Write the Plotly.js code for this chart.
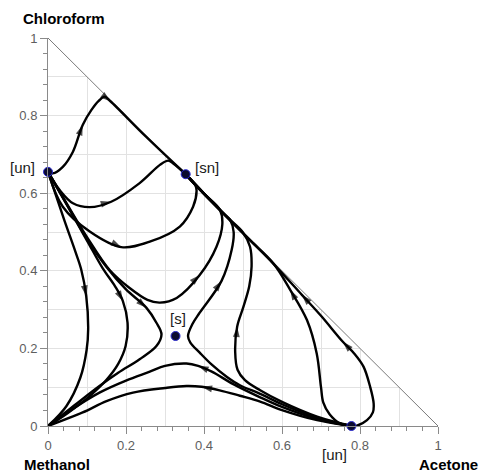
<!DOCTYPE html>
<html>
<head>
<meta charset="utf-8">
<script src="https://cdn.plot.ly/plotly-3.0.1.min.js"></script>
<style>html,body{margin:0;padding:0;background:#fff;}#chart{width:480px;height:472px;}</style>
</head>
<body>
<div id="chart"></div>
<script>
// ---- residue curves (x = Acetone, y = Chloroform), ordered along the flow ----
const a1X = [0, 0.012, 0.038, 0.064, 0.089, 0.111, 0.130, 0.145, 0.160, 0.250, 0.353];
const a1Y = [0.655, 0.651, 0.668, 0.707, 0.776, 0.814, 0.838, 0.849, 0.837, 0.747, 0.649];
const a1Arrows = [4, 8];

const a2X = [0, 0.030, 0.064, 0.107, 0.162, 0.235, 0.287, 0.308, 0.322, 0.353];
const a2Y = [0.655, 0.608, 0.574, 0.564, 0.578, 0.626, 0.673, 0.684, 0.676, 0.649];
const a2Arrows = [4];

const a3X = [0, 0.038, 0.107, 0.188, 0.261, 0.338, 0.372, 0.381, 0.378, 0.353];
const a3Y = [0.655, 0.565, 0.501, 0.461, 0.475, 0.514, 0.565, 0.606, 0.620, 0.649];
const a3Arrows = [3];

const b2X = [0, 0.050, 0.100, 0.158, 0.210, 0.255, 0.287, 0.330, 0.389, 0.432, 0.447, 0.441, 0.400, 0.353];
const b2Y = [0.655, 0.570, 0.487, 0.402, 0.355, 0.325, 0.318, 0.330, 0.389, 0.462, 0.520, 0.557, 0.599, 0.649];
const b2Arrows = [8];

const c1X = [0, 0.042, 0.070, 0.085, 0.098, 0.103, 0.099, 0.083, 0.047, 0];
const c1Y = [0.655, 0.530, 0.450, 0.404, 0.335, 0.250, 0.196, 0.125, 0.051, 0];
const c1Arrows = [4];

const c2X = [0, 0.050, 0.100, 0.140, 0.172, 0.192, 0.204, 0.199, 0.180, 0.150, 0.107, 0.050, 0];
const c2Y = [0.655, 0.567, 0.478, 0.407, 0.360, 0.322, 0.266, 0.206, 0.160, 0.119, 0.077, 0.033, 0];
const c2Arrows = [5];

const c3X = [0, 0.050, 0.100, 0.150, 0.200, 0.252, 0.278, 0.291, 0.278, 0.235, 0.180, 0.132, 0.060, 0];
const c3Y = [0.655, 0.568, 0.482, 0.410, 0.352, 0.305, 0.266, 0.236, 0.206, 0.172, 0.137, 0.103, 0.047, 0];
const c3Arrows = [5];

const d1X = [0.778, 0.690, 0.600, 0.544, 0.492, 0.458, 0.420, 0.389, 0.365, 0.359, 0.370, 0.389, 0.445, 0.471, 0.476, 0.467, 0.452, 0.400, 0.353];
const d1Y = [0, 0.021, 0.056, 0.083, 0.105, 0.127, 0.158, 0.189, 0.215, 0.232, 0.262, 0.292, 0.374, 0.454, 0.500, 0.531, 0.546, 0.599, 0.649];
const d1Arrows = [12];

const e1X = [0.778, 0.690, 0.600, 0.544, 0.475, 0.420, 0.385, 0.355, 0.300, 0.261, 0.200, 0.132, 0.060, 0];
const e1Y = [0, 0.018, 0.049, 0.074, 0.108, 0.140, 0.155, 0.161, 0.155, 0.140, 0.117, 0.086, 0.042, 0];
const e1Arrows = [6];

const e2X = [0.778, 0.690, 0.600, 0.544, 0.492, 0.440, 0.394, 0.355, 0.300, 0.218, 0.150, 0.089, 0];
const e2Y = [0, 0.015, 0.041, 0.063, 0.078, 0.092, 0.101, 0.103, 0.098, 0.086, 0.064, 0.035, 0];
const e2Arrows = [6];

const f1X = [0.778, 0.690, 0.600, 0.544, 0.505, 0.486, 0.480, 0.485, 0.501, 0.516, 0.522, 0.518, 0.499, 0.463, 0.400, 0.353];
const f1Y = [0, 0.024, 0.062, 0.092, 0.118, 0.145, 0.190, 0.256, 0.307, 0.360, 0.411, 0.462, 0.500, 0.535, 0.599, 0.649];
const f1Arrows = [7];

const g1X = [0.778, 0.749, 0.722, 0.706, 0.700, 0.689, 0.664, 0.621, 0.578, 0.520, 0.460, 0.400, 0.353];
const g1Y = [0, 0.006, 0.030, 0.060, 0.100, 0.187, 0.273, 0.351, 0.419, 0.477, 0.537, 0.598, 0.648];
const g1Arrows = [7];

const g2X = [0.778, 0.792, 0.818, 0.833, 0.835, 0.826, 0.809, 0.785, 0.756, 0.700, 0.651, 0.580, 0.500, 0.420, 0.353];
const g2Y = [0, 0.001, 0.015, 0.035, 0.058, 0.101, 0.153, 0.187, 0.217, 0.284, 0.338, 0.416, 0.497, 0.578, 0.648];
const g2Arrows = [8, 10];

// ---- singular points ----
const ptX = [0, 0.353, 0.327, 0.778];
const ptY = [0.655, 0.649, 0.232, 0];
const ptLabels = ['[un]', '[sn]', '[s]', '[un]'];
const ptLabelShift = [[-26, 4], [21, 7], [2, 17], [-17, -28]];

const tickVals = [0, 0.2, 0.4, 0.6, 0.8, 1];
const axisNames = {top: 'Chloroform', left: 'Methanol', right: 'Acetone'};

const curves = [
  [a1X, a1Y, a1Arrows], [a2X, a2Y, a2Arrows], [a3X, a3Y, a3Arrows],
  [b2X, b2Y, b2Arrows], [c1X, c1Y, c1Arrows], [c2X, c2Y, c2Arrows], [c3X, c3Y, c3Arrows],
  [d1X, d1Y, d1Arrows], [e1X, e1Y, e1Arrows], [e2X, e2Y, e2Arrows],
  [f1X, f1Y, f1Arrows], [g1X, g1Y, g1Arrows], [g2X, g2Y, g2Arrows]
];

const FONT = 'Liberation Sans, Arial, Helvetica, sans-serif';
const traces = [];
// empty trace that carries the overlay (grid) axes
traces.push({type: 'scatter', x: [], y: [], xaxis: 'x2', yaxis: 'y2', showlegend: false, hoverinfo: 'skip'});

curves.forEach(([xs, ys, arr]) => {
  traces.push({
    type: 'scatter', mode: 'lines+markers', x: xs, y: ys,
    line: {color: '#000', width: 2.4, shape: 'spline', smoothing: 1},
    marker: {symbol: 'arrow', angleref: 'previous', color: '#000',
             size: xs.map((_, i) => arr.includes(i) ? 11 : 0), line: {width: 0}},
    cliponaxis: false, showlegend: false, hoverinfo: 'skip'
  });
});

traces.push({
  type: 'scatter', mode: 'markers', x: ptX, y: ptY,
  marker: {color: '#0b0b2e', size: 9, line: {color: '#2a2ad0', width: 1}},
  cliponaxis: false, showlegend: false, hoverinfo: 'skip'
});

const annotations = ptLabels.map((t, i) => ({
  x: ptX[i], y: ptY[i], xref: 'x', yref: 'y', text: t, showarrow: false,
  xshift: ptLabelShift[i][0], yshift: ptLabelShift[i][1],
  xanchor: 'center', yanchor: 'middle', font: {family: FONT, size: 15, color: '#1a1a1a'}
}));
annotations.push(
  {text: axisNames.top, xref: 'paper', yref: 'paper', x: 0.041, y: 1.049, showarrow: false,
   xanchor: 'center', yanchor: 'middle', font: {family: FONT, size: 15, color: '#000', weight: 'bold'}},
  {text: axisNames.left, xref: 'paper', yref: 'paper', x: 0.022, y: -0.1, showarrow: false,
   xanchor: 'center', yanchor: 'middle', font: {family: FONT, size: 15, color: '#000', weight: 'bold'}},
  {text: axisNames.right, xref: 'paper', yref: 'paper', x: 1.026, y: -0.1, showarrow: false,
   xanchor: 'center', yanchor: 'middle', font: {family: FONT, size: 15, color: '#000', weight: 'bold'}}
);

const mainAxis = {
  range: [0, 1], tickvals: tickVals, ticks: 'outside', ticklen: 7, tickcolor: '#8a8a8a', tickwidth: 1,
  showline: true, linecolor: '#8a8a8a', linewidth: 1, showgrid: false, zeroline: false,
  tickfont: {family: FONT, size: 13, color: '#5e5e5e'},
  minor: {dtick: 0.04, tick0: 0, ticks: 'outside', ticklen: 4, tickcolor: '#8a8a8a', showgrid: false},
  fixedrange: true
};
const gridAxis = {
  range: [0, 1], dtick: 0.1, tick0: 0, showgrid: true, gridcolor: '#e2e2e2', gridwidth: 1,
  ticks: '', showticklabels: false, showline: false, zeroline: false, fixedrange: true
};

const layout = {
  width: 480, height: 472,
  margin: {l: 48, r: 42, t: 38, b: 46},
  paper_bgcolor: '#fff', plot_bgcolor: '#fff',
  showlegend: false, hovermode: false,
  xaxis: Object.assign({}, mainAxis, {anchor: 'y'}),
  yaxis: Object.assign({}, mainAxis, {anchor: 'x'}),
  xaxis2: Object.assign({}, gridAxis, {overlaying: 'x', anchor: 'y2'}),
  yaxis2: Object.assign({}, gridAxis, {overlaying: 'y', anchor: 'x2'}),
  shapes: [
    {type: 'path', xref: 'x', yref: 'y', path: 'M 0 1 L 1 1 L 1 0 Z',
     fillcolor: '#fff', line: {width: 0}, layer: 'between'},
    {type: 'line', xref: 'x', yref: 'y', x0: 0, y0: 1, x1: 1, y1: 0,
     line: {color: '#7a7a7a', width: 1}, layer: 'between'}
  ],
  annotations: annotations
};

Plotly.newPlot('chart', traces, layout, {displayModeBar: false, staticPlot: true});
</script>
</body>
</html>
